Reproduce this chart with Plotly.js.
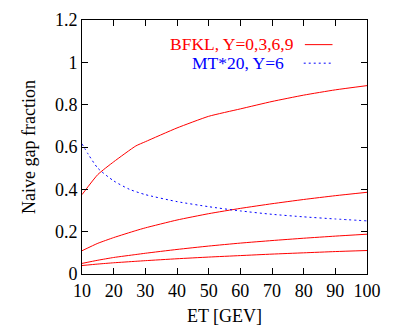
<!DOCTYPE html>
<html><head><meta charset="utf-8">
<script src="https://cdn.plot.ly/plotly-3.0.1.min.js"></script>
<style>body{margin:0;background:#fff}#c{width:399px;height:328px}</style>
</head><body><div id="c"></div>
<script>
const et = [10, 15, 20, 27, 30, 40, 50, 60, 70, 80, 90, 100];
const bfklY0 = [0.375, 0.47, 0.53, 0.605, 0.625, 0.69, 0.745, 0.78, 0.815, 0.845, 0.87, 0.89];
const bfklY3 = [0.11, 0.145, 0.172, 0.205, 0.218, 0.255, 0.285, 0.31, 0.332, 0.352, 0.37, 0.386];
const bfklY6 = [0.05, 0.065, 0.078, 0.092, 0.098, 0.116, 0.132, 0.146, 0.158, 0.169, 0.179, 0.188];
const bfklY9 = [0.04, 0.047, 0.053, 0.06, 0.063, 0.072, 0.08, 0.087, 0.094, 0.1, 0.106, 0.111];
const mtX = [10, 12, 15, 20, 25, 30, 40, 50, 60, 70, 80, 90, 100];
const mtY6 = [0.615, 0.565, 0.5, 0.44, 0.40, 0.375, 0.342, 0.318, 0.298, 0.282, 0.27, 0.26, 0.251];
const legendLabels = ["BFKL, Y=0,3,6,9", "MT*20, Y=6"];
const xTitle = "ET [GEV]";
const yTitle = "Naive gap fraction";

const red = "#ff0000", blue = "#0000ff";
const F = "'Liberation Serif', serif";
const traces = [bfklY0, bfklY3, bfklY6, bfklY9].map(y => ({
  x: et, y: y, type: "scatter", mode: "lines", line: {color: red, width: 1, shape: "spline", smoothing: 0.5}, hoverinfo: "none"
}));
traces.push({x: mtX, y: mtY6, type: "scatter", mode: "lines", line: {color: blue, width: 1, dash: "2px,3px", shape: "spline", smoothing: 0.6}, hoverinfo: "none"});

const axisCommon = {
  showgrid: false, zeroline: false, showline: true, mirror: "ticks",
  linecolor: "#000", linewidth: 1, ticks: "inside", ticklen: 6, tickwidth: 1, tickcolor: "#000",
  tickfont: {family: F, size: 18, color: "#000"}
};
const layout = {
  width: 399, height: 328,
  margin: {l: 82, r: 32, t: 20, b: 54},
  paper_bgcolor: "#fff", plot_bgcolor: "#fff",
  showlegend: false,
  font: {family: F, size: 18, color: "#000"},
  xaxis: Object.assign({}, axisCommon, {range: [10, 100], dtick: 10, tick0: 0,
    title: {text: xTitle, font: {family: F, size: 18}, standoff: 9}}),
  yaxis: Object.assign({}, axisCommon, {range: [0, 1.2], dtick: 0.2, tick0: 0,
    title: {text: yTitle, font: {family: F, size: 18}, standoff: 14}}),
  annotations: [
    {xref: "paper", yref: "paper", x: 0.748, y: 0.905, xanchor: "right", yanchor: "middle", showarrow: false,
     height: 18, borderpad: 0,
     text: legendLabels[0], font: {family: F, size: 17.5, color: red}},
    {xref: "paper", yref: "paper", x: 0.713, y: 0.830, xanchor: "right", yanchor: "middle", showarrow: false,
     height: 18, borderpad: 0,
     text: legendLabels[1], font: {family: F, size: 17.5, color: blue}}
  ],
  shapes: [
    {type: "line", xref: "paper", yref: "paper", x0: 0.782, x1: 0.879, y0: 0.903, y1: 0.903, line: {color: red, width: 1}},
    {type: "line", xref: "paper", yref: "paper", x0: 0.778, x1: 0.876, y0: 0.830, y1: 0.830, line: {color: blue, width: 1, dash: "2px,3px"}}
  ]
};
Plotly.newPlot("c", traces, layout, {displayModeBar: false, staticPlot: true});
</script></body></html>
